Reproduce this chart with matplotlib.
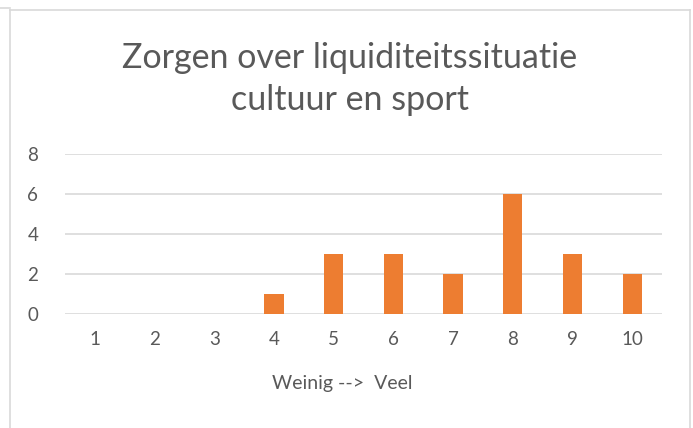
import matplotlib.pyplot as plt
from matplotlib.lines import Line2D

categories = ['1', '2', '3', '4', '5', '6', '7', '8', '9', '10']
counts = [0, 0, 0, 1, 3, 3, 2, 6, 3, 2]
yticks = [0, 2, 4, 6, 8]

plt.rcParams['font.family'] = ['Lato', 'DejaVu Sans']
text_col = '#595959'
grid_col = '#d9d9d9'
bar_col = '#ed7d31'

fig = plt.figure(figsize=(6.93, 4.28), dpi=100)
fig.patch.set_facecolor('white')

# chart border
W, H = 693.0, 428.0
def fx(x): return x / W
def fy(y): return 1 - y / H
for xs, ys in [((10, 690), (10, 10)), ((10, 10), (10, 430)), ((690, 690), (10, 430)),
               ((0, 10), (8, 8))]:
    fig.add_artist(Line2D([fx(x) for x in xs], [fy(y) for y in ys],
                          color=grid_col, lw=1.2, transform=fig.transFigure))

ax = fig.add_axes([fx(65), fy(314), fx(662) - fx(65), fy(154) - fy(314)])
x = list(range(len(categories)))
ax.bar(x, counts, width=0.32, color=bar_col, zorder=3)
ax.set_xlim(-0.5, len(categories) - 0.5)
ax.set_ylim(0, 8)
ax.set_yticks(yticks)
ax.set_xticks(x)
ax.set_xticklabels(categories)
ax.yaxis.grid(True, color=grid_col, lw=1.2, zorder=0)
for s in ax.spines.values():
    s.set_visible(False)
ax.tick_params(axis='both', length=0, colors=text_col, labelsize=13.5)
ax.tick_params(axis='x', pad=12)
ax.tick_params(axis='y', pad=27)
for lab in ax.get_yticklabels():
    lab.set_horizontalalignment('left')
ax.set_xlabel('Weinig -->  Veel', color=text_col, fontsize=14, va='center')
ax.xaxis.set_label_coords((342 - 65) / 597, (314 - 383) / 160)

fig.text(fx(350), fy(79), 'Zorgen over liquiditeitssituatie\ncultuur en sport',
         ha='center', va='center', fontsize=24.5, color=text_col, linespacing=1.35)

fig.savefig('out.png', dpi=100, facecolor='white')
